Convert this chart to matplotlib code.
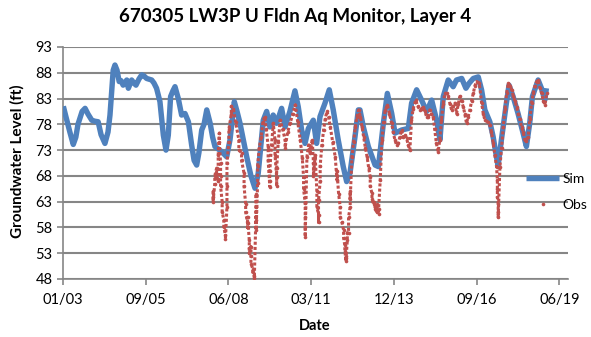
import datetime as dt
import matplotlib
matplotlib.use("Agg")
import matplotlib.pyplot as plt
import matplotlib.dates as md
from matplotlib.lines import Line2D
import pandas as pd

# simulated groundwater level (ft)
sim_dates = [
    "2003-01-05", "2003-02-05", "2003-03-25", "2003-05-05", "2003-06-05", "2003-07-01",
    "2003-08-20", "2003-09-25", "2003-10-30", "2003-12-15", "2004-01-22", "2004-03-01",
    "2004-04-05", "2004-05-22", "2004-06-28", "2004-07-22", "2004-08-15", "2004-08-30",
    "2004-09-20", "2004-10-15", "2004-11-10", "2004-12-01", "2004-12-28", "2005-02-10",
    "2005-03-01", "2005-04-10", "2005-05-08", "2005-06-01", "2005-07-08", "2005-08-10",
    "2005-09-05", "2005-10-08", "2005-12-08", "2006-01-05", "2006-02-05", "2006-03-18",
    "2006-04-05", "2006-04-28", "2006-05-30", "2006-06-27", "2006-07-25", "2006-08-22",
    "2006-09-16", "2006-10-26", "2006-12-05", "2007-01-15", "2007-02-25", "2007-04-05",
    "2007-05-05", "2007-06-05", "2007-07-02", "2007-08-05", "2007-09-02", "2007-10-05",
    "2007-11-15", "2007-12-15", "2008-01-12", "2008-04-02", "2008-06-02", "2008-07-12",
    "2008-09-02", "2008-10-05", "2008-11-10", "2009-01-30", "2009-03-22", "2009-05-10",
    "2009-06-18", "2009-07-20", "2009-08-18", "2009-09-28", "2009-11-06", "2009-12-16",
    "2010-01-26", "2010-03-28", "2010-05-08", "2010-07-06", "2010-09-05", "2010-10-15",
    "2010-11-25", "2011-01-05", "2011-02-14", "2011-04-15", "2011-05-25", "2011-07-05",
    "2011-09-03", "2011-10-25", "2011-12-12", "2012-02-10", "2012-04-11", "2012-05-22",
    "2012-07-01", "2012-08-31", "2012-10-10", "2012-10-30", "2012-12-10", "2013-02-08",
    "2013-05-01", "2013-06-10", "2013-08-09", "2013-09-26", "2013-11-18", "2013-12-28",
    "2014-03-18", "2014-06-06", "2014-07-16", "2014-09-15", "2014-11-14", "2015-01-14",
    "2015-03-16", "2015-05-15", "2015-06-24", "2015-08-03", "2015-10-02", "2015-12-01",
    "2016-01-10", "2016-03-13", "2016-05-03", "2016-06-12", "2016-07-31", "2016-09-29",
    "2016-11-08", "2016-12-18", "2017-02-16", "2017-03-28", "2017-05-07", "2017-05-27",
    "2017-07-06", "2017-09-04", "2017-10-06", "2017-11-24", "2018-01-23", "2018-03-25",
    "2018-05-04", "2018-06-13", "2018-07-16", "2018-09-23", "2018-11-02", "2018-12-12",
    "2019-01-01",
]
sim_levels = [
    81.5, 79.5, 76.5, 74.1, 75.5, 78.0,
    80.5, 81.1, 80.0, 78.8, 78.6, 78.5,
    76.0, 74.3, 76.5, 79.8, 85.0, 88.5,
    89.5, 88.5, 86.3, 86.5, 85.6, 86.6,
    85.0, 86.6, 86.0, 85.6, 86.8, 87.6,
    87.4, 86.9, 86.6, 86.0, 85.0, 82.4,
    79.5, 75.9, 73.0, 75.9, 83.4, 84.5,
    85.3, 83.0, 79.8, 80.1, 78.5, 74.0,
    71.0, 70.1, 72.5, 76.9, 78.0, 80.8,
    78.2, 75.5, 73.7, 72.7, 71.7, 75.0,
    82.4, 80.5, 78.2, 71.7, 68.0, 65.6,
    68.5, 74.0, 78.8, 80.5, 77.5, 79.8,
    78.2, 81.1, 77.5, 80.5, 84.5, 81.4,
    76.9, 74.3, 77.2, 78.8, 74.3, 79.5,
    82.1, 84.7, 80.8, 75.0, 69.8, 66.9,
    68.5, 75.6, 80.8, 80.8, 77.5, 73.7,
    70.1, 69.8, 78.2, 84.0, 80.1, 76.3,
    76.9, 77.2, 82.1, 84.7, 82.7, 80.5,
    82.7, 78.8, 75.0, 83.4, 86.6, 85.3,
    86.6, 86.9, 85.0, 86.0, 86.9, 87.2,
    84.7, 80.8, 78.5, 75.6, 71.7, 70.0,
    75.0, 82.1, 85.6, 83.4, 80.1, 76.3,
    73.7, 78.2, 83.4, 86.6, 85.0, 82.7,
    85.0,
]

# observed groundwater level (ft), several readings on some dates
obs_dates = [
    "2007-12-20", "2008-01-10", "2008-02-01", "2008-02-20", "2008-03-05", "2008-03-20",
    "2008-04-08", "2008-04-28", "2008-05-18", "2008-06-05", "2008-06-28", "2008-07-28",
    "2008-08-22", "2008-09-17", "2008-10-27", "2008-11-28", "2008-12-29", "2009-01-17",
    "2009-02-09", "2009-03-02", "2009-03-22", "2009-04-12", "2009-05-02", "2009-05-24",
    "2009-06-11", "2009-07-01", "2009-07-24", "2009-08-14", "2009-09-04", "2009-09-24",
    "2009-10-16", "2009-11-05", "2009-11-26", "2009-12-17", "2010-01-07", "2010-01-27",
    "2010-02-15", "2010-03-10", "2010-04-10", "2010-05-09", "2010-06-09", "2010-07-09",
    "2010-08-09", "2010-09-09", "2010-10-08", "2010-11-08", "2010-12-03", "2010-12-18",
    "2011-01-07", "2011-01-28", "2011-02-17", "2011-03-07", "2011-04-02", "2011-04-17",
    "2011-05-07", "2011-05-28", "2011-06-17", "2011-07-07", "2011-07-28", "2011-08-17",
    "2011-09-06", "2011-09-26", "2011-10-16", "2011-11-06", "2011-12-06", "2012-01-05",
    "2012-01-26", "2012-02-15", "2012-03-05", "2012-03-26", "2012-04-15", "2012-04-30",
    "2012-05-15", "2012-05-30", "2012-06-14", "2012-07-04", "2012-07-25", "2012-08-14",
    "2012-09-04", "2012-09-24", "2012-10-14", "2012-11-04", "2012-11-24", "2012-12-14",
    "2013-01-03", "2013-01-24", "2013-02-13", "2013-03-03", "2013-03-24", "2013-04-13",
    "2013-05-02", "2013-05-23", "2013-06-12", "2013-07-02", "2013-07-23", "2013-08-12",
    "2013-09-01", "2013-09-27", "2013-10-22", "2013-11-17", "2013-12-06", "2013-12-26",
    "2014-01-15", "2014-02-05", "2014-02-23", "2014-03-17", "2014-04-05", "2014-04-25",
    "2014-05-17", "2014-06-05", "2014-06-25", "2014-07-15", "2014-08-04", "2014-09-04",
    "2014-09-29", "2014-10-25", "2014-11-14", "2014-12-04", "2014-12-24", "2015-01-13",
    "2015-02-03", "2015-02-21", "2015-03-13", "2015-04-03", "2015-04-22", "2015-05-12",
    "2015-06-02", "2015-06-22", "2015-07-12", "2015-08-02", "2015-08-23", "2015-09-12",
    "2015-10-02", "2015-10-23", "2015-11-12", "2015-12-02", "2015-12-22", "2016-01-11",
    "2016-02-01", "2016-02-20", "2016-03-11", "2016-04-01", "2016-04-20", "2016-05-10",
    "2016-05-31", "2016-06-20", "2016-07-10", "2016-07-31", "2016-08-20", "2016-09-09",
    "2016-10-11", "2016-11-09", "2016-11-29", "2016-12-19", "2017-01-19", "2017-02-16",
    "2017-03-08", "2017-03-29", "2017-04-18", "2017-05-08", "2017-05-18", "2017-05-28",
    "2017-06-18", "2017-07-08", "2017-07-28", "2017-08-18", "2017-09-07", "2017-09-27",
    "2017-10-18", "2017-11-07", "2017-11-27", "2017-12-17", "2018-01-06", "2018-01-27",
    "2018-02-14", "2018-03-06", "2018-03-27", "2018-04-15", "2018-05-05", "2018-05-26",
    "2018-06-15", "2018-07-05", "2018-07-26", "2018-08-16", "2018-09-05", "2018-09-25",
    "2018-10-16", "2018-11-05", "2018-11-25", "2018-12-15", "2019-01-04",
]
obs_levels = [
    [65.0, 64.0, 63.0], [66.5, 68.0], [69.5, 67.5], [67.0, 72.0], [76.3, 74.5], [70.5, 68.0, 66.0],
    [63.0, 61.0], [59.5, 58.0], [56.5, 55.8], [62.0, 66.0, 70.5], [74.5, 77.0], [80.0, 81.5],
    [81.0], [78.5], [75.0, 73.0], [72.5, 71.0], [68.5, 66.0], [62.5, 61.0],
    [58.8, 58.0, 60.0], [55.5, 54.0, 53.0], [54.3, 52.5, 51.0], [50.0, 49.3], [48.5, 48.2], [62.0, 64.5, 59.5, 57.5],
    [66.6, 70.0], [73.5], [75.6], [78.5], [79.5], [77.0],
    [73.7, 71.0], [65.9, 67.0, 69.0], [74.0], [78.2], [75.0, 72.0], [67.8, 66.0, 69.5],
    [74.5], [78.8], [77.0], [75.0, 73.5], [76.5], [78.2],
    [80.0], [81.8], [78.5], [75.0], [71.5], [67.8, 65.5],
    [62.7, 60.0, 58.0, 56.2], [71.7], [74.0], [72.4], [75.0], [70.5, 68.0],
    [72.0], [65.0, 62.0], [60.5, 59.0, 63.3], [67.0, 70.0], [74.0], [76.9],
    [79.0], [80.5], [79.5], [77.5], [74.5], [71.7],
    [67.2, 69.0], [64.5], [62.0, 60.0], [59.0], [57.5, 56.0], [54.5, 53.5],
    [51.4, 52.5, 52.0], [55.5, 57.0], [56.9, 60.0], [62.0, 65.0, 63.5], [71.7], [74.5],
    [77.5], [79.5], [80.8], [79.5], [77.5], [75.6],
    [73.5], [71.7], [69.5], [67.8, 66.0], [64.6, 63.5], [62.5, 63.0],
    [62.0, 61.5], [61.0, 62.5], [60.7, 61.5], [67.2], [75.0], [78.5],
    [80.8], [81.8], [80.0], [78.2], [76.5], [75.0],
    [74.0], [74.3], [75.5], [76.9], [75.5], [76.0],
    [75.3], [74.0], [73.0], [78.8], [81.0], [82.7],
    [81.5], [80.8], [81.0], [81.4], [80.5], [79.5],
    [79.5], [80.8], [80.1], [79.5], [77.0], [74.3],
    [72.7], [75.0], [78.8], [82.0], [84.0], [84.0],
    [83.4], [82.0], [80.8], [81.5], [82.1], [80.1],
    [82.0], [83.4], [82.5], [81.4], [80.0], [78.2],
    [79.5], [80.8], [82.5], [84.0], [85.5], [86.3],
    [86.0], [82.1], [80.0], [78.8], [78.5], [77.9],
    [76.5], [74.3], [72.0], [69.8], [67.2, 65.5, 64.0], [62.5, 61.0, 60.0],
    [69.8], [73.5], [77.5], [81.0], [84.0], [86.0],
    [85.5], [84.7], [83.5], [82.5], [81.4], [80.0],
    [79.0], [77.5], [76.5], [75.0], [74.8], [75.6],
    [79.0], [82.1], [84.0], [85.5], [86.3], [86.6],
    [85.0], [84.0], [82.5], [81.8], [84.0],
]

sim_x = pd.to_datetime(sim_dates)
obs_x = []
obs_y = []
for d, vals in zip(pd.to_datetime(obs_dates), obs_levels):
    for v in vals:
        obs_x.append(d)
        obs_y.append(v)

plt.rcParams["font.family"] = ["Lato", "DejaVu Sans"]
grey = "#868686"
blue = "#4F81BD"
red = "#C0504D"

fig = plt.figure(figsize=(5.91, 3.37), dpi=100)
ax = fig.add_axes([63 / 591, 1 - 279 / 337, (568 - 63) / 591, (279 - 47) / 337])

ax.plot(sim_x, sim_levels, color=blue, lw=3.9, solid_joinstyle="round",
        solid_capstyle="butt", zorder=3)
# readings are near daily, so the dots run together into a band
ax.plot(obs_x, obs_y, color=red, lw=2.2, ls=(0, (1, 0.7)), marker="o", ms=2.6,
        mew=0, zorder=4)

start = dt.datetime(2003, 1, 1)
ax.set_xlim(start, start + dt.timedelta(days=6105))
ax.set_ylim(48, 93)
ax.set_yticks(range(48, 94, 5))
ax.xaxis.set_major_locator(plt.FixedLocator(
    [md.date2num(start + dt.timedelta(days=1000 * k)) for k in range(7)]))
ax.xaxis.set_major_formatter(md.DateFormatter("%m/%y"))

ax.grid(axis="y", color=grey, lw=1.5)
ax.set_axisbelow(True)
for s in ["top", "right"]:
    ax.spines[s].set_visible(False)
for s in ["left", "bottom"]:
    ax.spines[s].set_color(grey)
    ax.spines[s].set_linewidth(1.2)
ax.tick_params(colors=grey, labelcolor="black", labelsize=10.5, length=4, width=1.2)
ax.tick_params(axis="x", pad=6)

fig.text(0.5, 0.95, "670305 LW3P U Fldn Aq Monitor, Layer 4", ha="center", va="center",
         fontsize=13.5, fontweight="bold")
fig.text(17 / 591, 1 - 161 / 337, "Groundwater Level (ft)", rotation=90,
         ha="center", va="center", fontsize=11, fontweight="bold")
fig.text(315 / 591, 1 - 326 / 337, "Date", ha="center", va="center",
         fontsize=10.5, fontweight="bold")

handles = [Line2D([], [], color=blue, lw=3.9, solid_capstyle="butt"),
           Line2D([], [], color=red, ls="none", marker="o", ms=2.6, mew=0)]
ax.legend(handles, ["Sim", "Obs"], loc="center left",
          bbox_to_anchor=(526 / 591, 1 - 192 / 337),
          bbox_transform=fig.transFigure, frameon=False, fontsize=10,
          handlelength=2.4, handletextpad=0.25, labelspacing=1.05,
          borderpad=0, borderaxespad=0)

fig.savefig("out.png", dpi=100)
